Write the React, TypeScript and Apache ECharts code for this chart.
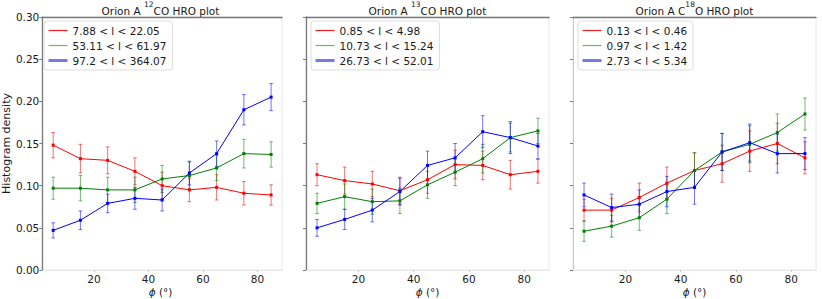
import React, { useEffect, useRef } from "react";
import * as echarts from "echarts";

const phi = [5, 15, 25, 35, 45, 55, 65, 75, 85];
const xTickValues = [20, 40, 60, 80];
const xLabel = "{i|ϕ}{n| (°)}";
const yLabel = "Histogram density";

// Panel 1: 12CO
const co12Names = ["7.88 < l < 22.05", "53.11 < l < 61.97", "97.2 < l < 364.07"];
const co12Low = [0.148, 0.132, 0.130, 0.117, 0.100, 0.095, 0.098, 0.091, 0.089];
const co12LowErr = [0.015, 0.017, 0.016, 0.016, 0.016, 0.014, 0.015, 0.014, 0.012];
const co12Mid = [0.097, 0.097, 0.095, 0.095, 0.108, 0.112, 0.121, 0.138, 0.137];
const co12MidErr = [0.013, 0.015, 0.015, 0.015, 0.016, 0.016, 0.015, 0.017, 0.015];
const co12High = [0.047, 0.059, 0.079, 0.085, 0.083, 0.115, 0.138, 0.190, 0.205];
const co12HighErr = [0.009, 0.011, 0.011, 0.013, 0.013, 0.014, 0.015, 0.018, 0.016];

// Panel 2: 13CO
const co13Names = ["0.85 < l < 4.98", "10.73 < l < 15.24", "26.73 < l < 52.01"];
const co13Low = [0.113, 0.106, 0.102, 0.094, 0.107, 0.125, 0.124, 0.113, 0.117];
const co13LowErr = [0.013, 0.016, 0.015, 0.016, 0.016, 0.017, 0.017, 0.017, 0.014];
const co13Mid = [0.079, 0.087, 0.081, 0.082, 0.101, 0.116, 0.132, 0.157, 0.165];
const co13MidErr = [0.012, 0.015, 0.015, 0.015, 0.016, 0.016, 0.017, 0.017, 0.015];
const co13High = [0.050, 0.060, 0.071, 0.093, 0.124, 0.133, 0.164, 0.157, 0.147];
const co13HighErr = [0.010, 0.012, 0.014, 0.016, 0.017, 0.017, 0.019, 0.019, 0.015];

// Panel 3: C18O
const c18oNames = ["0.13 < l < 0.46", "0.97 < l < 1.42", "2.73 < l < 5.34"];
const c18oLow = [0.071, 0.071, 0.086, 0.103, 0.118, 0.126, 0.141, 0.150, 0.133];
const c18oLowErr = [0.013, 0.014, 0.017, 0.019, 0.021, 0.022, 0.024, 0.024, 0.019];
const c18oMid = [0.046, 0.052, 0.062, 0.084, 0.118, 0.140, 0.149, 0.163, 0.185];
const c18oMidErr = [0.012, 0.013, 0.015, 0.017, 0.021, 0.022, 0.022, 0.022, 0.019];
const c18oHigh = [0.089, 0.074, 0.078, 0.093, 0.098, 0.140, 0.151, 0.138, 0.138];
const c18oHighErr = [0.014, 0.016, 0.017, 0.018, 0.020, 0.022, 0.022, 0.023, 0.019];

const titles = [
  "{n|Orion A }{sup|12}{n|CO HRO plot}",
  "{n|Orion A }{sup|13}{n|CO HRO plot}",
  "{n|Orion A C}{sup|18}{n|O HRO plot}",
];

const panels = [
  { names: co12Names, vals: [co12Low, co12Mid, co12High], errs: [co12LowErr, co12MidErr, co12HighErr] },
  { names: co13Names, vals: [co13Low, co13Mid, co13High], errs: [co13LowErr, co13MidErr, co13HighErr] },
  { names: c18oNames, vals: [c18oLow, c18oMid, c18oHigh], errs: [c18oLowErr, c18oMidErr, c18oHighErr] },
];

const lineColors = ["#ff0000", "#008000", "#0000ff"];
const errColors = ["rgba(230,0,0,0.55)", "rgba(0,128,0,0.55)", "rgba(0,0,255,0.55)"];
const legendLineColors = ["#ee2222", "#66bb66", "#7777ee"];
const legendLineWidths = [1.2, 1.2, 3];

const FONT = "DejaVu Sans";
const TEXT = "#1a1a1a";

export default function App() {
  const ref = useRef<HTMLDivElement>(null);
  useEffect(() => {
    if (!ref.current) return;
    const chart = echarts.init(ref.current, undefined, { renderer: "svg" });
    const gridLefts = [39, 306, 573];
    const gridWidth = 243;
    const gridTop = 17;
    const gridHeight = 253;

    const grid: any[] = [];
    const xAxis: any[] = [];
    const yAxis: any[] = [];
    const title: any[] = [];
    const legend: any[] = [];
    const series: any[] = [];

    panels.forEach((p, pi) => {
      const left = gridLefts[pi];
      grid.push({
        left,
        top: gridTop,
        width: gridWidth,
        height: gridHeight,
        show: true,
        borderColor: "#e8e8e8",
        borderWidth: 1,
        backgroundColor: "transparent",
      });
      xAxis.push({
        type: "value",
        gridIndex: pi,
        min: 1,
        max: 89,
        position: "bottom",
        axisLine: { show: true, onZero: false, lineStyle: { color: "#e8e8e8", width: 1 } },
        axisTick: { show: true, customValues: xTickValues, length: 2, lineStyle: { color: "#cccccc" } },
        axisLabel: {
          customValues: xTickValues,
          fontSize: 10.5,
          lineHeight: 11,
          color: TEXT,
          fontFamily: FONT,
          margin: 3,
        },
        splitLine: { show: false },
      });
      xAxis.push({
        type: "value",
        gridIndex: pi,
        min: 1,
        max: 89,
        position: "top",
        axisLine: { show: true, onZero: false, lineStyle: { color: "#7a7a7a", width: 1.3 } },
        axisTick: { show: false },
        axisLabel: { show: false },
        splitLine: { show: false },
      });
      yAxis.push({
        type: "value",
        gridIndex: pi,
        min: 0,
        max: 0.3,
        interval: 0.05,
        axisLine: {
          show: true,
          onZero: false,
          lineStyle: { color: pi === 2 ? "#c8c8c8" : "#7a7a7a", width: pi === 2 ? 1 : 1.3 },
        },
        axisTick: { show: true, length: 3, lineStyle: { color: "#7a7a7a" } },
        axisLabel: {
          show: pi === 0,
          formatter: (v: number) => v.toFixed(2),
          fontSize: 10.5,
          color: TEXT,
          fontFamily: FONT,
          margin: 3,
        },
        splitLine: { show: false },
        name: pi === 0 ? yLabel : "",
        nameLocation: "middle",
        nameGap: 26,
        nameTextStyle: { fontSize: 11, color: TEXT, fontFamily: FONT },
      });
      title.push({
        text: titles[pi],
        left: left + gridWidth / 2,
        textAlign: "center",
        top: 0,
        padding: 0,
        textStyle: {
          fontSize: 10.5,
          fontWeight: "normal",
          color: TEXT,
          fontFamily: FONT,
          lineHeight: 16,
          rich: {
            sup: { fontSize: 7.5, verticalAlign: "top", lineHeight: 16, color: TEXT, fontFamily: FONT },
            n: { fontSize: 10.5, verticalAlign: "bottom", lineHeight: 16, color: TEXT, fontFamily: FONT },
          },
        },
      });
      title.push({
        text: xLabel,
        left: left + gridWidth / 2,
        textAlign: "center",
        top: 286,
        padding: 0,
        textStyle: {
          fontSize: 10.5,
          lineHeight: 11,
          fontWeight: "normal",
          color: TEXT,
          fontFamily: FONT,
          rich: {
            i: { fontSize: 10.5, lineHeight: 11, fontStyle: "italic", color: TEXT, fontFamily: FONT },
            n: { fontSize: 10.5, lineHeight: 11, color: TEXT, fontFamily: FONT },
          },
        },
      });
      legend.push({
        orient: "vertical",
        left: left + 5,
        top: 21,
        itemWidth: 19,
        itemHeight: 10,
        itemGap: 4,
        itemTextGap: 9,
        padding: [4, 6, 4, 3],
        borderColor: "#dddddd",
        borderWidth: 1,
        borderRadius: 3,
        backgroundColor: "rgba(255,255,255,0.8)",
        selectedMode: false,
        textStyle: { fontSize: 10.5, color: TEXT, fontFamily: FONT },
        data: p.names.map((n, si) => ({
          name: n,
          itemStyle: { opacity: 0 },
          lineStyle: { color: legendLineColors[si], width: legendLineWidths[si], opacity: 1 },
        })),
      });
      p.names.forEach((n, si) => {
        const vals = p.vals[si];
        const errs = p.errs[si];
        const color = errColors[si];
        series.push({
          type: "custom",
          name: "err " + n,
          xAxisIndex: pi * 2,
          yAxisIndex: pi,
          encode: { x: 0, y: 1 },
          data: phi.map((x, i) => [x, vals[i], errs[i]]),
          z: 2,
          renderItem: (params: any, api: any) => {
            const x = api.value(0);
            const y = api.value(1);
            const e = api.value(2);
            const top = api.coord([x, y + e]);
            const bot = api.coord([x, y - e]);
            const c = 1.8;
            const st = { stroke: color, lineWidth: 1 };
            return {
              type: "group",
              children: [
                { type: "line", shape: { x1: top[0], y1: top[1], x2: bot[0], y2: bot[1] }, style: st },
                { type: "line", shape: { x1: top[0] - c, y1: top[1], x2: top[0] + c, y2: top[1] }, style: st },
                { type: "line", shape: { x1: bot[0] - c, y1: bot[1], x2: bot[0] + c, y2: bot[1] }, style: st },
              ],
            };
          },
        });
        series.push({
          type: "line",
          name: n,
          xAxisIndex: pi * 2,
          yAxisIndex: pi,
          data: phi.map((x, i) => [x, vals[i]]),
          symbol: "rect",
          symbolSize: 3,
          z: 3,
          lineStyle: { color: lineColors[si], width: 1 },
          itemStyle: { color: lineColors[si] },
          emphasis: { disabled: true },
        });
      });
    });

    chart.setOption({
      animation: false,
      backgroundColor: "#ffffff",
      textStyle: { fontFamily: FONT },
      grid,
      xAxis,
      yAxis,
      title,
      legend,
      series,
    });
    return () => chart.dispose();
  }, []);
  return (
    <div
      ref={ref}
      style={{ position: "fixed", left: 0, top: 0, width: 822, height: 299 }}
    />
  );
}
